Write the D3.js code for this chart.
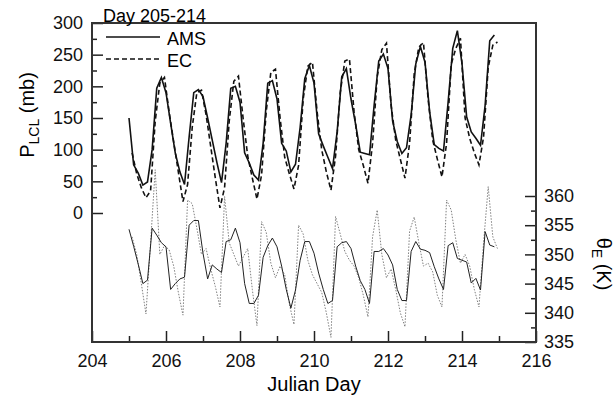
<!DOCTYPE html>
<html>
<head>
<meta charset="utf-8">
<script src="https://cdn.jsdelivr.net/npm/d3@7"></script>
<style>
  body { margin: 0; background: #fff; }
  svg { display: block; font-family: 'Liberation Sans', Arial, sans-serif; }
</style>
</head>
<body>
<svg width="616" height="400"></svg>
<script>
// 3-hourly samples, day 205.0 .. 214.875 (8 per day)
const startDay = 205;
const stepDays = 3 / 24;
// EC record is time-stamped 2 h after the AMS one
const ecLag = 2 / 24;

// Lifting condensation level pressure (mb), one row per day
const amsP = [
  150, 76, 63, 44, 49, 100, 197, 214,
  190, 142, 95, 65, 45, 120, 190, 195,
  184, 150, 115, 80, 48, 110, 197, 200,
  175, 95, 79, 60, 52, 110, 205, 209,
  180, 110, 98, 65, 77, 135, 212, 233,
  205, 125, 106, 88, 70, 128, 215, 228,
  180, 140, 96, 94, 92, 170, 240, 251,
  228, 145, 113, 94, 103, 155, 235, 263,
  238, 160, 108, 102, 98, 175, 260, 288,
  236, 152, 128, 118, 107, 170, 272, 281
];
const ecP = [
  95, 62, 40, 24, 35, 145, 205, 214,
  160, 112, 65, 18, 45, 135, 190, 194,
  155, 105, 55, 8, 40, 145, 208, 216,
  150, 90, 55, 22, 60, 160, 222, 227,
  150, 88, 62, 38, 75, 180, 232, 238,
  160, 100, 65, 36, 90, 190, 240, 243,
  160, 100, 75, 47, 110, 215, 258, 268,
  170, 115, 85, 55, 110, 220, 262, 269,
  180, 115, 85, 57, 110, 235, 260, 276,
  150, 118, 95, 76, 120, 230, 265, 270
];

// Equivalent potential temperature (K)
const amsT = [
  354.3, 351.4, 348.3, 345.0, 345.6, 354.5, 353.3, 352.0,
  351.3, 344.0, 345.0, 345.8, 346.1, 355.0, 355.8, 355.8,
  350.2, 345.8, 348.2, 347.5, 346.9, 352.2, 352.5, 354.5,
  352.0, 345.0, 341.6, 341.6, 343.0, 349.5, 351.5, 352.8,
  351.3, 348.0, 344.0, 340.8, 343.9, 349.0, 352.2, 352.2,
  350.2, 346.8, 344.0, 341.6, 342.1, 351.3, 352.0, 352.2,
  351.0, 348.0, 345.5, 344.0, 341.6, 350.5, 350.5, 351.0,
  349.9, 348.2, 344.0, 342.1, 342.1, 350.5, 352.2, 350.9,
  350.7, 350.3, 347.9, 345.8, 344.0, 351.5, 352.0, 349.3,
  349.0, 348.7, 345.1, 345.9, 343.9, 353.9, 351.6, 351.3
];
const ecT = [
  353.0, 350.0, 345.0, 339.8, 352.0, 364.5, 350.0, 351.5,
  350.8, 348.0, 343.5, 339.6, 359.3, 358.7, 354.5, 350.0,
  351.0, 347.5, 344.5, 341.0, 359.9, 352.0, 350.0, 348.0,
  349.5, 351.0, 344.0, 337.8, 355.6, 353.8, 348.5, 346.0,
  348.0, 346.5, 341.5, 338.0, 355.0, 353.5, 349.0, 346.5,
  345.0, 343.5, 340.0, 335.8, 356.5, 353.5, 350.5, 349.0,
  348.0, 346.0, 343.0, 339.3, 353.0, 357.6, 350.0, 346.0,
  347.5, 344.0, 340.0, 337.6, 354.0, 356.4, 352.0, 348.0,
  348.5, 347.0, 343.0, 341.0, 359.3, 357.6, 352.5, 348.5,
  350.0, 348.0, 344.0, 341.0, 352.0, 361.6, 353.0, 351.0
];

const dayTicks = [204, 206, 208, 210, 212, 214, 216];
const pTicks = [0, 50, 100, 150, 200, 250, 300];
const tTicks = [335, 340, 345, 350, 355, 360];

const margin = { left: 92, right: 536, top: 23, bottom: 342 };

const svg = d3.select('svg');

const x = d3.scaleLinear().domain([204, 216]).range([margin.left, margin.right]);
const yP = d3.scaleLinear().domain([0, 300]).range([213, margin.top]);
const yT = d3.scaleLinear().domain([335, 360]).range([margin.bottom, 196]);

const toSeries = (vals, lag) => vals.map((v, i) => ({ day: startDay + i * stepDays + lag, v }));

const lineP = d3.line().x(d => x(d.day)).y(d => yP(d.v));
const lineT = d3.line().x(d => x(d.day)).y(d => yT(d.v));

const plot = svg.append('g').attr('fill', 'none');

plot.append('path')
  .attr('d', lineT(toSeries(ecT, ecLag)))
  .attr('stroke', '#808080')
  .attr('stroke-width', 1)
  .attr('stroke-dasharray', '1.5,1.5');

plot.append('path')
  .attr('d', lineT(toSeries(amsT, 0)))
  .attr('stroke', '#222')
  .attr('stroke-width', 1);

plot.append('path')
  .attr('d', lineP(toSeries(ecP, ecLag)))
  .attr('stroke', '#111')
  .attr('stroke-width', 1.6)
  .attr('stroke-dasharray', '5,3');

plot.append('path')
  .attr('d', lineP(toSeries(amsP, 0)))
  .attr('stroke', '#111')
  .attr('stroke-width', 1.6);

// axes, ticks pointing into the frame
const styleAxis = g => {
  g.select('.domain').remove();
  g.selectAll('line').attr('stroke', '#222').attr('stroke-width', 1.5);
  g.selectAll('text').attr('font-size', 18).attr('fill', '#111')
    .attr('font-family', "'Liberation Sans', Arial, sans-serif");
};

svg.append('g')
  .attr('transform', `translate(0,${margin.bottom})`)
  .call(d3.axisBottom(x).tickValues(d3.range(205, 216, 2)).tickSize(-6).tickFormat(''))
  .call(styleAxis);
svg.append('g')
  .attr('transform', `translate(0,${margin.bottom})`)
  .call(d3.axisBottom(x).tickValues(dayTicks).tickSize(-11).tickPadding(12))
  .call(styleAxis);

svg.append('g')
  .attr('transform', `translate(${margin.left},0)`)
  .call(d3.axisLeft(yP).tickValues(d3.range(25, 300, 50)).tickSize(-5).tickFormat(''))
  .call(styleAxis);
svg.append('g')
  .attr('transform', `translate(${margin.left},0)`)
  .call(d3.axisLeft(yP).tickValues(pTicks).tickSize(-11).tickPadding(9))
  .call(styleAxis);

svg.append('g')
  .attr('transform', `translate(${margin.right},0)`)
  .call(d3.axisRight(yT).tickValues(d3.range(337.5, 360, 5)).tickSize(-5).tickFormat(''))
  .call(styleAxis);
svg.append('g')
  .attr('transform', `translate(${margin.right},0)`)
  .call(d3.axisRight(yT).tickValues(tTicks).tickSize(-11).tickPadding(8))
  .call(styleAxis);

// frame
svg.append('rect')
  .attr('x', margin.left)
  .attr('y', margin.top)
  .attr('width', margin.right - margin.left)
  .attr('height', margin.bottom - margin.top)
  .attr('fill', 'none')
  .attr('stroke', '#333')
  .attr('stroke-width', 2);

// title and legend
svg.append('text')
  .attr('x', 103)
  .attr('y', 22)
  .attr('font-size', 18)
  .text('Day 205-214');

const legend = svg.append('g').attr('font-size', 18);
legend.append('line')
  .attr('x1', 106).attr('x2', 160).attr('y1', 37).attr('y2', 37)
  .attr('stroke', '#111').attr('stroke-width', 1.6);
legend.append('text').attr('x', 167).attr('y', 45).text('AMS');
legend.append('line')
  .attr('x1', 106).attr('x2', 160).attr('y1', 59).attr('y2', 59)
  .attr('stroke', '#111').attr('stroke-width', 1.6)
  .attr('stroke-dasharray', '5,3');
legend.append('text').attr('x', 167).attr('y', 67).text('EC');

// axis titles
svg.append('text')
  .attr('x', 314)
  .attr('y', 391)
  .attr('text-anchor', 'middle')
  .attr('font-size', 20)
  .text('Julian Day');

const leftTitle = svg.append('text')
  .attr('transform', 'translate(34,115) rotate(-90)')
  .attr('text-anchor', 'middle')
  .attr('font-size', 20);
leftTitle.append('tspan').text('P');
leftTitle.append('tspan').attr('font-size', 14).attr('dy', 5).text('LCL');
leftTitle.append('tspan').attr('dy', -5).text(' (mb)');

const rightTitle = svg.append('text')
  .attr('transform', 'translate(597,264) rotate(90)')
  .attr('text-anchor', 'middle')
  .attr('font-size', 20);
rightTitle.append('tspan').text('θ');
rightTitle.append('tspan').attr('font-size', 14).attr('dy', 5).text('E');
rightTitle.append('tspan').attr('dy', -5).text(' (K)');
</script>
</body>
</html>
